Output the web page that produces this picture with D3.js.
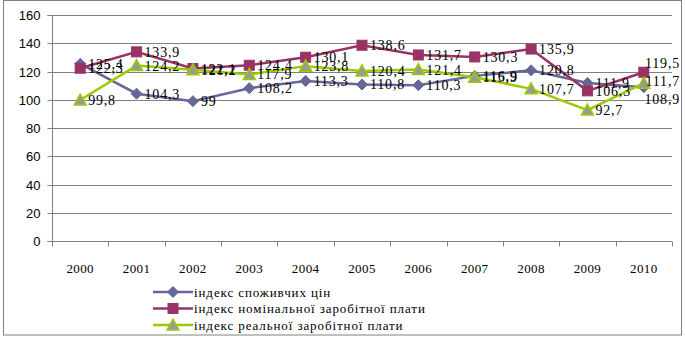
<!DOCTYPE html>
<html>
<head>
<meta charset="utf-8">
<script src="https://cdn.jsdelivr.net/npm/d3@7"></script>
<style>
  html, body { margin: 0; padding: 0; background: #fff; }
  svg { display: block; }
</style>
</head>
<body>
<svg id="chart" width="685" height="344"></svg>
<script>
// Years along the category axis
const years = ["2000", "2001", "2002", "2003", "2004", "2005", "2006", "2007", "2008", "2009", "2010"];
// Consumer price index, %
const cpi = [125.4, 104.3, 99, 108.2, 113.3, 110.8, 110.3, 116.9, 120.8, 111.9, 108.9];
// Nominal wage index, %
const nominalWage = [122.3, 133.9, 122.1, 124.4, 130.1, 138.6, 131.7, 130.3, 135.9, 106.3, 119.5];
// Real wage index, %
const realWage = [99.8, 124.2, 121.2, 117.9, 123.8, 120.4, 121.4, 115.9, 107.7, 92.7, 111.7];
// Value axis ticks
const yTicks = [0, 20, 40, 60, 80, 100, 120, 140, 160];
const seriesNames = ["індекс споживчих цін", "індекс номінальної заробітної плати", "індекс реальної заробітної плати"];

const series = [
  { name: seriesNames[0], values: cpi, line: "#666699", fill: "#666699", stroke: "#666699", shape: "diamond" },
  { name: seriesNames[1], values: nominalWage, line: "#993366", fill: "#993366", stroke: "#993366", shape: "square" },
  { name: seriesNames[2], values: realWage, line: "#99CC00", fill: "#999999", stroke: "#99CC00", shape: "triangle" }
];

const svg = d3.select("#chart");
const plot = { left: 52, right: 672, top: 15, bottom: 241 };
const serif = "'Liberation Serif', 'Times New Roman', serif";

// Outer chart frame
svg.append("rect")
  .attr("x", 3.5).attr("y", 0.5).attr("width", 678).attr("height", 334.5)
  .attr("fill", "none").attr("stroke", "#808080").attr("stroke-width", 1);

const x = d3.scaleBand().domain(years).range([plot.left, plot.right]);
const y = d3.scaleLinear().domain([0, 160]).range([plot.bottom, plot.top]);
const cx = d => x(d) + x.bandwidth() / 2;

// Horizontal gridlines
svg.append("g").selectAll("line").data(yTicks.filter(t => t > 0)).join("line")
  .attr("x1", plot.left).attr("x2", plot.right)
  .attr("y1", d => Math.round(y(d)) + 0.5).attr("y2", d => Math.round(y(d)) + 0.5)
  .attr("stroke", "#808080").attr("stroke-width", 1);

// Value axis
const yAxis = svg.append("g")
  .attr("transform", `translate(${plot.left + 0.5},0)`)
  .call(d3.axisLeft(y).tickValues(yTicks).tickSize(5).tickPadding(7).tickFormat(d3.format("d")));
yAxis.select(".domain").attr("stroke", "#808080").attr("d", `M-5,${Math.round(y(0)) + 0.5}H0V${Math.round(y(160)) + 0.5}H-5`);
yAxis.selectAll(".tick line").attr("stroke", "#808080");
yAxis.selectAll(".tick").attr("transform", d => `translate(0,${Math.round(y(d)) + 0.5})`);
yAxis.selectAll("text")
  .attr("font-family", "'Liberation Sans', Arial, sans-serif")
  .attr("font-size", 13).attr("fill", "#000");

// Category axis
const xAxisY = Math.round(y(0)) + 0.5;
svg.append("line")
  .attr("x1", plot.left).attr("x2", plot.right)
  .attr("y1", xAxisY).attr("y2", xAxisY)
  .attr("stroke", "#808080");
const boundaries = years.map(d => x(d)).concat([plot.right]);
svg.append("g").selectAll("line").data(boundaries).join("line")
  .attr("x1", d => Math.round(d) + 0.5).attr("x2", d => Math.round(d) + 0.5)
  .attr("y1", xAxisY).attr("y2", xAxisY + 5)
  .attr("stroke", "#808080");
svg.append("g").selectAll("text").data(years).join("text")
  .attr("x", d => cx(d)).attr("y", 273)
  .attr("text-anchor", "middle")
  .attr("font-family", serif)
  .attr("font-size", 13).attr("letter-spacing", 0.4).attr("fill", "#000")
  .text(d => d);

// Marker shapes
function marker(sel, shape, fill, stroke) {
  if (shape === "diamond") {
    sel.append("path").attr("d", "M0,-5.5L5.5,0L0,5.5L-5.5,0Z").attr("fill", fill).attr("stroke", stroke);
  } else if (shape === "square") {
    sel.append("rect").attr("x", -5).attr("y", -5).attr("width", 10).attr("height", 10).attr("fill", fill).attr("stroke", stroke);
  } else {
    sel.append("path").attr("d", "M0,-6L6,5L-6,5Z").attr("fill", fill).attr("stroke", stroke).attr("stroke-width", 1.5);
  }
}

const line = d3.line().x((d, i) => cx(years[i])).y(d => y(d));

series.forEach(s => {
  svg.append("path").datum(s.values)
    .attr("d", line).attr("fill", "none")
    .attr("stroke", s.line).attr("stroke-width", 2.5);
  const g = svg.append("g");
  s.values.forEach((v, i) => {
    const m = g.append("g").attr("transform", `translate(${cx(years[i])},${y(v)})`);
    marker(m, s.shape, s.fill, s.stroke);
  });
});

// Data labels: placed right of each point; labels that would run past the
// frame are pulled back inside and spread apart vertically.
const fmt = v => String(v).replace(".", ",");
const labels = [];
series.forEach(s => {
  s.values.forEach((v, i) => {
    labels.push({ text: fmt(v), i, px: cx(years[i]), py: y(v) });
  });
});
const labelLayer = svg.append("g")
  .attr("font-family", serif).attr("font-size", 14).attr("letter-spacing", 0.8).attr("fill", "#000");
labels.forEach(l => {
  l.node = labelLayer.append("text").attr("x", l.px + 8).attr("y", l.py + 5).text(l.text);
  l.w = l.node.node().getComputedTextLength();
  l.x = l.px + 8;
  l.cy = l.py;
  l.clamped = false;
  if (l.x + l.w > 680) { l.x = 680 - l.w; l.clamped = true; }
});
d3.groups(labels.filter(l => l.clamped), l => l.i).forEach(([, group]) => {
  group.sort((a, b) => a.cy - b.cy);
  const gap = 18;
  for (let k = 0; k < 20; k++) {
    for (let j = 1; j < group.length; j++) {
      const d = group[j].cy - group[j - 1].cy;
      if (d < gap) {
        const push = (gap - d) / 2;
        group[j - 1].cy -= push;
        group[j].cy += push;
      }
    }
  }
});
labels.forEach(l => l.node.attr("x", l.x).attr("y", l.cy + 5));

// Legend
const legend = svg.append("g");
series.forEach((s, i) => {
  const ly = 292 + i * 16.5;
  const row = legend.append("g").attr("transform", `translate(153,${ly})`);
  row.append("line").attr("x1", 0).attr("x2", 40).attr("y1", 0).attr("y2", 0)
    .attr("stroke", s.line).attr("stroke-width", 2.5);
  const m = row.append("g").attr("transform", "translate(20,0)");
  marker(m, s.shape, s.fill, s.stroke);
  row.append("text").attr("x", 41).attr("y", 4.5)
    .attr("font-family", serif)
    .attr("font-size", 13).attr("letter-spacing", 0.9).attr("fill", "#000")
    .text(s.name);
});
</script>
</body>
</html>
